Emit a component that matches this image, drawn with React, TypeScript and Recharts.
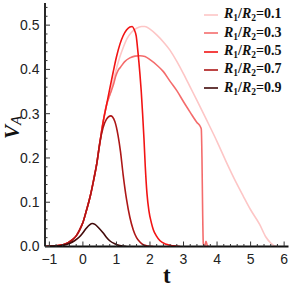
import React from "react";
import { LineChart, Line, XAxis, YAxis, Legend } from "recharts";

// legend entries (R1/R2) and their colours, lightest first
const ratios = ["0.1", "0.3", "0.5", "0.7", "0.9"];
const colors = ["#fdc6c6", "#f46c6c", "#f21414", "#ad1717", "#420a0a"];

// rising edge shared by R1/R2 = 0.1 ... 0.7
const riseT = [-1.1, -1.0, -0.8, -0.6, -0.45, -0.3, -0.2, -0.1, 0, 0.1, 0.22, 0.32, 0.42, 0.5];
const riseV = [0, 0.0005, 0.0015, 0.004, 0.008, 0.016, 0.024, 0.037, 0.054, 0.08, 0.114, 0.15, 0.19, 0.232];

// further shared part for 0.1, 0.3, 0.5
const midT = [0.6, 0.7];
const midV = [0.28, 0.318];

const tail01T = [0.8, 0.9, 1.0, 1.1, 1.2, 1.32, 1.45, 1.6, 1.75, 1.85, 2.0, 2.2, 2.4, 2.6, 2.8, 3.0, 3.2, 3.4, 3.68, 4.0, 4.28, 4.5, 4.78, 5.0, 5.27, 5.45, 5.6, 5.7, 5.8];
const tail01V = [0.342, 0.372, 0.402, 0.428, 0.449, 0.47, 0.484, 0.493, 0.497, 0.497, 0.491, 0.478, 0.462, 0.443, 0.418, 0.39, 0.36, 0.33, 0.287, 0.237, 0.19, 0.155, 0.114, 0.083, 0.05, 0.022, 0.008, 0.002, 0];

const tail03T = [0.78, 0.85, 0.92, 0.98, 1.05, 1.12, 1.24, 1.4, 1.55, 1.7, 1.85, 2.0, 2.2, 2.4, 2.6, 2.8, 3.0, 3.2, 3.4, 3.5, 3.53, 3.55, 3.57, 3.59, 3.63, 3.67, 3.71, 3.76];
const tail03V = [0.338, 0.352, 0.368, 0.385, 0.398, 0.405, 0.417, 0.426, 0.43, 0.431, 0.429, 0.422, 0.41, 0.395, 0.373, 0.352, 0.327, 0.303, 0.28, 0.271, 0.265, 0.2, 0.08, 0.006, 0, 0.012, 0.002, 0];

const tail05T = [0.8, 0.9, 1.0, 1.1, 1.2, 1.3, 1.4, 1.47, 1.53, 1.59, 1.64, 1.7, 1.74, 1.78, 1.82, 1.86, 1.91, 1.97, 2.04, 2.1, 2.19, 2.3, 2.49, 2.7, 2.9];
const tail05V = [0.356, 0.393, 0.428, 0.456, 0.476, 0.489, 0.496, 0.497, 0.49, 0.475, 0.44, 0.39, 0.35, 0.3, 0.245, 0.18, 0.12, 0.08, 0.054, 0.038, 0.024, 0.013, 0.005, 0.0015, 0];

const tail07T = [0.6, 0.7, 0.83, 0.95, 1.05, 1.12, 1.2, 1.3, 1.4, 1.5, 1.6, 1.7, 1.8, 1.95, 2.1];
const tail07V = [0.268, 0.287, 0.295, 0.283, 0.25, 0.215, 0.162, 0.107, 0.066, 0.038, 0.02, 0.01, 0.004, 0.001, 0];

const r09T = [-1.1, -0.8, -0.6, -0.4, -0.25, -0.1, 0, 0.1, 0.2, 0.28, 0.36, 0.46, 0.6, 0.7, 0.8, 0.95, 1.1, 1.3];
const r09V = [0, 0.0008, 0.0025, 0.007, 0.013, 0.022, 0.031, 0.041, 0.049, 0.052, 0.05, 0.043, 0.031, 0.021, 0.013, 0.006, 0.002, 0];

const xMajor = [-1, 0, 1, 2, 3, 4, 5, 6];
const yMajor = [0, 0.1, 0.2, 0.3, 0.4, 0.5];

const toPts = (ts: number[], vs: number[]) => ts.map((t, i) => ({ t, v: vs[i] }));

const series = [
  toPts([...riseT, ...midT, ...tail01T], [...riseV, ...midV, ...tail01V]),
  toPts([...riseT, ...midT, ...tail03T], [...riseV, ...midV, ...tail03V]),
  toPts([...riseT, ...midT, ...tail05T], [...riseV, ...midV, ...tail05V]),
  toPts([...riseT, ...tail07T], [...riseV, ...tail07V]),
  toPts(r09T, r09V),
];

// minor ticks like Mathematica's frame (4 between majors)
const xTicks: number[] = [];
for (let i = 0; i <= 35; i++) xTicks.push(Math.round((-1 + i * 0.2) * 100) / 100);
const yTicks: number[] = [];
for (let i = 0; i <= 27; i++) yTicks.push(Math.round(i * 2) / 100);

const isMajor = (v: number, list: number[]) => list.some((m) => Math.abs(m - v) < 1e-6);

const SANS = '"Liberation Sans", Arial, sans-serif';
const SERIF = '"Liberation Serif", "Times New Roman", serif';
const TICK = "#333";

const fmtX = (v: number) => (v < 0 ? "\u2212" + Math.abs(v) : String(v));

const BottomTick = (p: any) => {
  const v = p.payload.value;
  const major = isMajor(v, xMajor);
  return (
    <g>
      <line x1={p.x} x2={p.x} y1={p.y} y2={p.y - (major ? 5 : 2.5)} stroke={TICK} strokeWidth={1} />
      {major && (
        <text x={p.x} y={p.y + 8} dy="0.71em" textAnchor="middle" fontSize={14} fontFamily={SANS} fill="#222">
          {fmtX(v)}
        </text>
      )}
    </g>
  );
};

const TopTick = (p: any) => {
  const major = isMajor(p.payload.value, xMajor);
  return <line x1={p.x} x2={p.x} y1={p.y} y2={p.y + (major ? 5 : 2.5)} stroke={TICK} strokeWidth={1} />;
};

const LeftTick = (p: any) => {
  const v = p.payload.value;
  const major = isMajor(v, yMajor);
  return (
    <g>
      <line x1={p.x} x2={p.x + (major ? 5 : 2.5)} y1={p.y} y2={p.y} stroke={TICK} strokeWidth={1} />
      {major && (
        <text x={p.x - 5.5} y={p.y} dy="0.355em" textAnchor="end" fontSize={14} fontFamily={SANS} fill="#222">
          {v.toFixed(1)}
        </text>
      )}
    </g>
  );
};

const RightTick = (p: any) => {
  const major = isMajor(p.payload.value, yMajor);
  return <line x1={p.x} x2={p.x - (major ? 5 : 2.5)} y1={p.y} y2={p.y} stroke={TICK} strokeWidth={1} />;
};

const renderLegend = (props: any) => {
  const items = props.payload || [];
  return (
    <div style={{ fontFamily: SERIF, fontWeight: "bold", fontSize: 14, color: "#111" }}>
      {items.map((it: any, i: number) => (
        <div key={i} style={{ display: "flex", alignItems: "center", height: 18.3 }}>
          <svg width={22} height={18} style={{ display: "block" }}>
            <line x1={2} x2={16} y1={9} y2={9} stroke={it.color} strokeWidth={1.6} />
          </svg>
          <span style={{ whiteSpace: "nowrap", lineHeight: "18px" }}>
            <i>R</i>
            <span style={{ fontSize: 9.5, position: "relative", top: 3 }}>1</span>/<i>R</i>
            <span style={{ fontSize: 9.5, position: "relative", top: 3 }}>2</span>={it.value}
          </span>
        </div>
      ))}
    </div>
  );
};

const xDomain = [-1.13, 6.13];
const yDomain = [0, 0.55];

export default function App() {
  return (
    <div style={{ position: "absolute", left: 0, top: 0, width: 293, height: 287, background: "#fff" }}>
      <LineChart width={293} height={287} margin={{ top: 3, right: 4.5, bottom: 0, left: 0 }}>
        <XAxis
          xAxisId="b"
          dataKey="t"
          type="number"
          domain={xDomain}
          allowDataOverflow
          ticks={xTicks}
          interval={0}
          tick={<BottomTick />}
          tickLine={false}
          tickSize={0}
          tickMargin={0}
          height={40.5}
          axisLine={{ stroke: "#111", strokeWidth: 1.8 }}
          label={{
            content: () => (
              <text x={166.75} y={282.5} textAnchor="middle" fontFamily={SERIF} fontWeight="bold" fontSize={23} fill="#111">
                t
              </text>
            ),
          }}
        />
        <XAxis
          xAxisId="top"
          orientation="top"
          type="number"
          domain={xDomain}
          allowDataOverflow
          ticks={xTicks}
          interval={0}
          tick={<TopTick />}
          tickLine={false}
          tickSize={0}
          tickMargin={0}
          height={0}
          axisLine={{ stroke: "#222", strokeWidth: 1.2 }}
        />
        <YAxis
          yAxisId="l"
          type="number"
          domain={yDomain}
          allowDataOverflow
          ticks={yTicks}
          interval={0}
          tick={<LeftTick />}
          tickLine={false}
          tickSize={0}
          tickMargin={0}
          width={45}
          axisLine={{ stroke: "#111", strokeWidth: 1.8 }}
          label={{
            content: () => (
              <text
                transform="rotate(-90 19 127.5)"
                x={19}
                y={127.5}
                textAnchor="middle"
                fontFamily={SERIF}
                fill="#111"
              >
                <tspan fontSize={21} fontWeight="bold" fontStyle="italic">V</tspan>
                <tspan fontSize={15} fontStyle="italic" dy={2}>A</tspan>
              </text>
            ),
          }}
        />
        <YAxis
          yAxisId="r"
          orientation="right"
          type="number"
          domain={yDomain}
          allowDataOverflow
          ticks={yTicks}
          interval={0}
          tick={<RightTick />}
          tickLine={false}
          tickSize={0}
          tickMargin={0}
          width={0}
          axisLine={{ stroke: "#222", strokeWidth: 1.2 }}
        />
        {series.map((d, i) => (
          <Line
            key={ratios[i]}
            xAxisId="b"
            yAxisId="l"
            data={d}
            dataKey="v"
            name={ratios[i]}
            type="monotone"
            stroke={colors[i]}
            strokeWidth={1.6}
            dot={false}
            activeDot={false}
            isAnimationActive={false}
          />
        ))}
        <Legend
          layout="vertical"
          align="center"
          verticalAlign="middle"
          content={renderLegend}
          wrapperStyle={{ position: "absolute", top: 5.8, left: 202, width: 91, height: "auto" }}
        />
      </LineChart>
    </div>
  );
}
